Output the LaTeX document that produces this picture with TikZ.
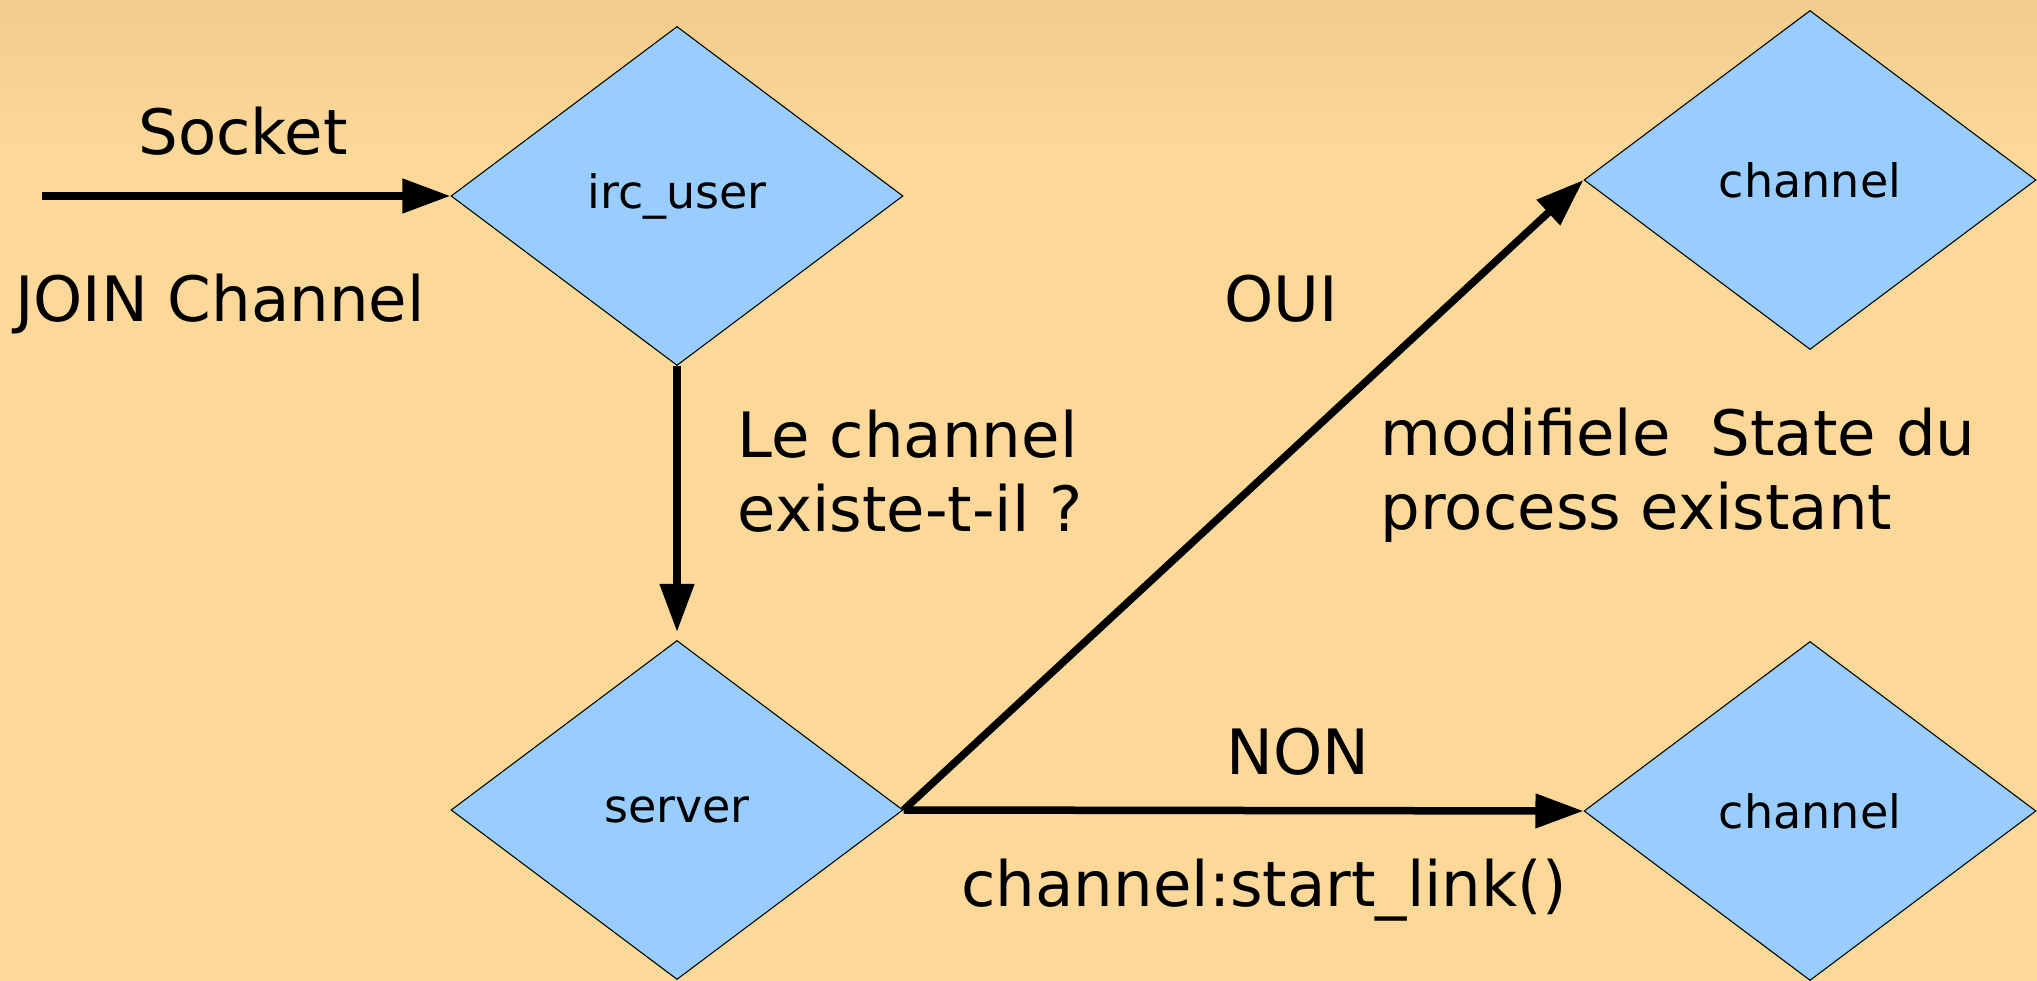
\documentclass[tikz,border=0pt]{standalone}
\usepackage{fontspec}
\setmainfont{DejaVu Sans}
\usetikzlibrary{arrows.meta,positioning,shapes.geometric}
\definecolor{sand}{HTML}{FCD899}
\definecolor{sanddark}{HTML}{F2CC8C}
\definecolor{sky}{HTML}{99CCFF}

\begin{document}
\begin{tikzpicture}[>={Triangle[length=4.8mm,width=3.3mm]}]
  \tikzstyle{proc}=[diamond,draw=black,line width=0.3pt,fill=sky,minimum width=4.52cm,minimum height=3.39cm,inner sep=0pt,font=\fontsize{13.1}{15.7}\selectfont]
  \tikzstyle{lbl}=[inner sep=0pt,font=\fontsize{17.8}{21.3}\selectfont]
  \tikzstyle{flow}=[->,line width=0.75mm]
  % page background, darker towards the top
  \fill[sand] (0,0) rectangle (20.37,9.81);
  \shade[top color=sanddark,bottom color=sand] (0,8.3) rectangle (20.37,9.81);
  \useasboundingbox (0,0) rectangle (20.37,9.81);
  % processes
  \node[proc] (user) at (6.77,7.85) {irc\_user};
  \node[proc] (srv) at (6.77,1.71) {server};
  \node[proc] (chanA) at (18.10,8.01) {channel};
  \node[proc] (chanB) at (18.10,1.70) {channel};
  % messages
  \coordinate (in) at (0.42,7.85);
  \draw[flow] (in) -- (user.west);
  \draw[flow,shorten >=0.8mm] (user.south) -- (srv.north);
  \draw[flow] (srv.east) -- (chanA.west);
  \draw[flow] (srv.east) -- (chanB.west);
  % labels (base = last line for the two-line ones)
  \node[lbl,anchor=base] (sock) at (2.43,8.26) {Socket};
  \node[lbl,anchor=base] (join) at (2.20,6.59) {JOIN Channel};
  \node[lbl,anchor=base] (oui) at (12.81,6.59) {OUI};
  \node[lbl,anchor=base west,align=left] (exist) at (7.37,4.49) {Le channel\\existe-t-il ?};
  \node[lbl,anchor=base west,align=left] (state) at (13.80,4.51) {modifiele\ \ State du\\process existant};
  \node[lbl,anchor=base] (non) at (12.98,2.06) {NON};
  \node[lbl,anchor=base] (start) at (12.64,0.74) {channel:start\_link()};
\end{tikzpicture}
\end{document}
